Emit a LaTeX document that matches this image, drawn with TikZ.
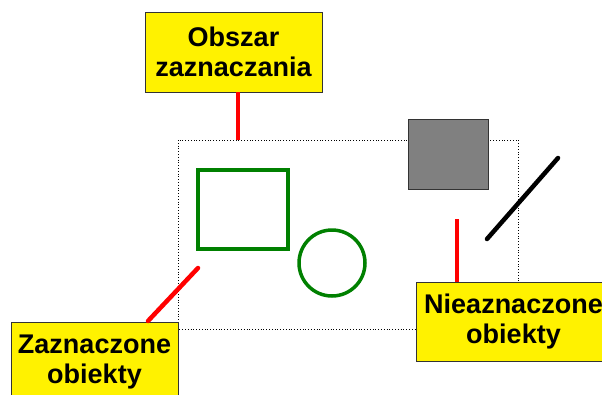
\documentclass[tikz,border=0pt]{standalone}
\usepackage{fontspec}
\setmainfont{Liberation Sans}
\begin{document}
\begin{tikzpicture}[x=1pt,y=-1pt,
  label box/.style={draw=black!80,line width=0.8pt,fill=yellow,align=center,
    font=\fontsize{27}{30}\selectfont\bfseries,inner sep=0pt,outer sep=0pt,anchor=north west},
  redline/.style={red,line width=4.5pt,line cap=round},
  greenline/.style={draw=green!50!black,line width=3.5pt,outer sep=0pt,inner sep=0pt}]
\useasboundingbox (0,0) rectangle (602,394);
\clip (0,0) rectangle (602,394);
% selection area
\draw[dotted,line width=0.8pt] (178,140) rectangle (518,329);
% objects
\node[greenline,draw,minimum width=90pt,minimum height=79pt,anchor=north west] (rect) at (198,170) {};
\node[greenline,draw,circle,minimum size=66pt] (circ) at (332,263) {};
\node[draw=black!80,fill=black!50,line width=0.8pt,minimum width=80pt,minimum height=70pt,anchor=north west,inner sep=0pt,outer sep=0pt] (sq) at (408,119) {};
\coordinate (l1) at (487,239);
\coordinate (l2) at (558,158);
\draw[black,line width=4.5pt,line cap=round] (l1) -- (l2);
% labels
\node[label box,minimum width=177pt,minimum height=80pt] (top) at (145,12) {Obszar\\zaznaczania};
\node[label box,minimum width=167pt,minimum height=80pt] (bl) at (11,322) {Zaznaczone\\obiekty};
\node[label box,minimum width=195pt,minimum height=79pt] (br) at (416,282) {Nieaznaczone\\obiekty};
% connectors
\coordinate (c1) at (238,140);
\draw[redline,line cap=butt] (c1 |- top.south) -- (c1);
\coordinate (c2) at (198,268);
\coordinate (c2b) at (148,321);
\draw[redline] (c2) -- (c2b);
\coordinate (c3) at (457,219);
\draw[redline,line cap=butt] (c3 |- br.north) -- (c3);
\end{tikzpicture}
\end{document}
